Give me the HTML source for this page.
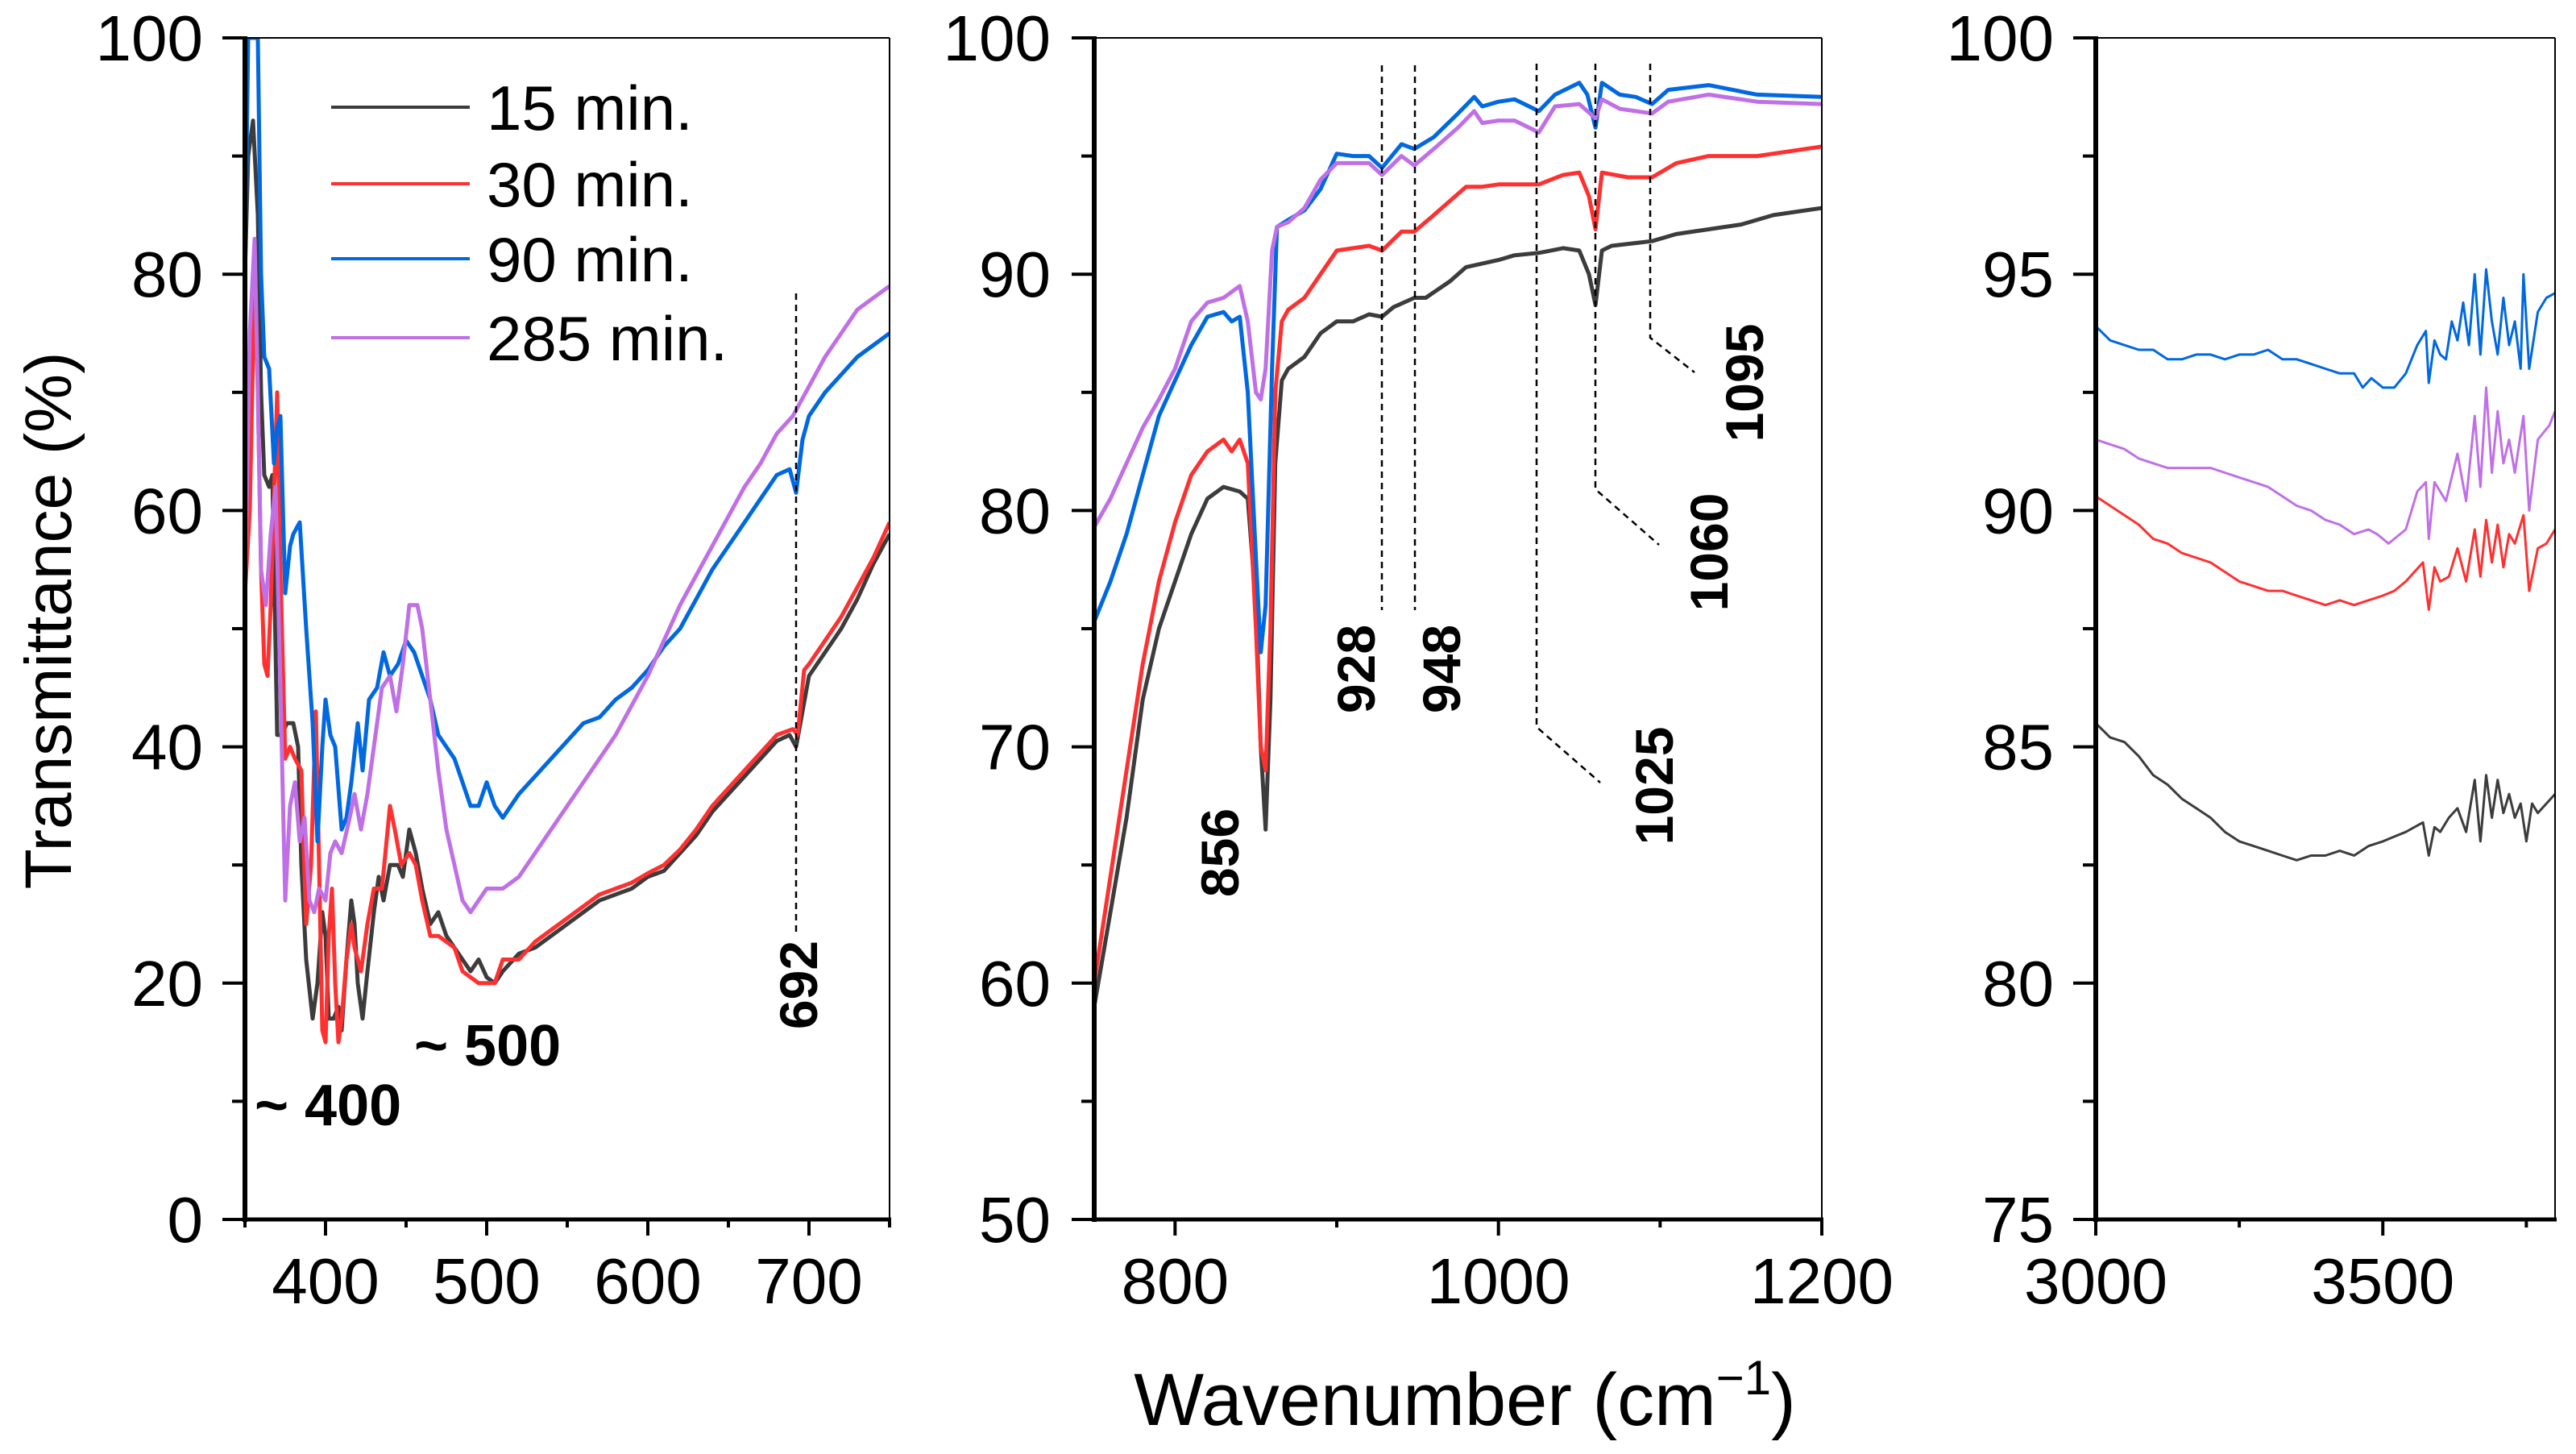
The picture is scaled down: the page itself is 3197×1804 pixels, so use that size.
<!DOCTYPE html>
<html><head><meta charset="utf-8"><style>
html,body{margin:0;padding:0;background:#fff;}
svg{display:block;font-family:"Liberation Sans",sans-serif;}
</style></head><body>
<svg id="chart" width="3197" height="1804" viewBox="0 0 3197 1804" xmlns="http://www.w3.org/2000/svg">
<rect width="3197" height="1804" fill="#fff"/>
<text transform="translate(88,770) rotate(-90)" text-anchor="middle" font-size="82">Transmittance (%)</text>
<text x="1818" y="1768" text-anchor="middle" font-size="92">Wavenumber (cm<tspan dy="-38" font-size="60">−1</tspan><tspan dy="38">)</tspan></text>
</svg>
<script>
const NS="http://www.w3.org/2000/svg";
const svg=document.getElementById('chart');
const seriesNames=["15 min.","30 min.","90 min.","285 min."];
const seriesColors=["#3c3c3c","#ff3030","#0068e0","#c070e6"];

// Panel 1 data (wavenumber, %T)
const p1x15=[350,352,355,358,360,362,365,367,370,373,376,380,383,385,388,392,395,398,400,402,405,408,410,413,416,418,420,423,426,430,433,436,440,445,448,452,456,460,465,470,475,480,485,490,495,500,505,510,520,530,540,550,560,570,580,590,600,610,620,630,640,650,660,670,680,688,692,696,700,710,720,730,740,750];
const p1y15=[80,90,93,85,70,63,62,63,41,41,42,42,40,30,22,17,20,26,24,17,17,18,16,22,27,25,20,17,21,26,29,27,30,30,29,33,31,28,25,26,24,23,22,21,22,20.5,20,21,22.5,23,24,25,26,27,27.5,28,29,29.5,31,32.5,34.5,36,37.5,39,40.5,41,40,43,46,48,50,52.5,55.5,58];
const p1x30=[350,353,356,358,360,362,364,366,370,372,375,378,381,385,388,391,394,396,398,400,402,404,406,408,410,413,416,418,422,426,430,435,440,443,447,452,456,460,465,470,480,485,490,495,505,510,520,530,540,550,560,570,580,590,600,610,620,630,640,650,660,670,680,690,693,697,700,710,720,730,740,750];
const p1y30=[53,60,80,70,55,47,46,52,70,55,39,40,39,38,25,30,43,30,16,15,24,28,20,15,17,22,25,23,21,25,28,28,35,33,30,31,30,27,24,24,23,21,20.5,20,20,22,22,23.5,24.5,25.5,26.5,27.5,28,28.5,29.3,30,31.3,33,35,36.5,38,39.5,41,41.5,41,46.5,47,49,51,53.5,56,59];
const p1x90=[350,352,355,358,360,362,365,368,370,372,375,378,380,384,388,392,395,398,400,403,406,410,413,416,420,423,427,432,436,440,445,450,455,460,465,470,475,480,485,490,495,500,505,510,515,520,530,540,550,560,570,580,590,600,610,620,630,640,650,660,670,680,688,692,696,700,710,720,730,740,750];
const p1y90=[80,100,100,100,80,73,72,64,67,68,53,57,58,59,50,42,32,40,44,41,40,33,34,37,42,38,44,45,48,46,47,49,48,46,44,41,40,39,37,35,35,37,35,34,35,36,37.5,39,40.5,42,42.5,44,45,46.5,48.5,50,52.5,55,57,59,61,63,63.5,61.5,66,68,70,71.5,73,74,75];
const p1x285=[350,353,356,358,360,363,366,369,372,375,378,381,384,387,390,393,396,400,403,406,410,415,418,422,426,430,435,440,444,448,452,457,460,465,470,475,480,485,490,495,500,510,520,530,540,550,560,570,580,590,600,610,620,630,640,650,660,670,680,690,700,710,720,730,740,750];
const p1y285=[53,75,83,70,55,52,58,62,45,27,35,37,32,34,27,26,28,27,31,32,31,34,36,33,36,40,45,46,43,47,52,52,50,44,38,33,30,27,26,27,28,28,29,31,33,35,37,39,41,43.5,46,49,52,54.5,57,59.5,62,64,66.5,68,70.5,73,75,77,78,79];

// Panel 2 data
const p2x15=[750,760,770,780,790,800,810,820,830,840,845,850,853,856,859,862,866,870,880,890,900,910,920,928,935,948,955,970,980,1000,1010,1025,1040,1050,1056,1060,1064,1070,1095,1110,1130,1150,1170,1200];
const p2y15=[59,63,67,72,75,77,79,80.5,81,80.8,80.5,76,70,66.5,72,82,85.5,86,86.5,87.5,88,88,88.3,88.2,88.6,89,89,89.7,90.3,90.6,90.8,90.9,91.1,91,90,88.7,91,91.2,91.4,91.7,91.9,92.1,92.5,92.8];
const p2x30=[750,760,770,780,790,800,810,820,830,835,840,845,850,853,856,859,862,866,870,880,890,900,910,920,928,940,948,960,980,990,1000,1010,1025,1040,1050,1056,1060,1064,1080,1095,1110,1130,1160,1200];
const p2y30=[60,64.5,69,73.5,77,79.5,81.5,82.5,83,82.5,83,82,75,70,69,75,85,88,88.5,89,90,91,91.1,91.2,91,91.8,91.8,92.5,93.7,93.7,93.8,93.8,93.8,94.2,94.3,93.3,91.9,94.3,94.1,94.1,94.7,95,95,95.4];
const p2x90=[750,760,770,780,790,800,810,820,830,835,840,845,850,853,856,860,863,870,880,890,900,910,920,928,940,948,960,975,985,990,1000,1010,1025,1035,1050,1055,1060,1064,1075,1085,1095,1105,1130,1160,1200];
const p2y90=[75.3,77,79,81.5,84,85.5,87,88.2,88.4,88,88.2,85,78,74,76,86,92,92.3,92.7,93.6,95.1,95,95,94.5,95.5,95.3,95.8,96.8,97.5,97.1,97.3,97.4,96.9,97.6,98.1,97.6,96.2,98.1,97.6,97.5,97.2,97.8,98,97.6,97.5];
const p2x285=[750,760,770,780,790,800,810,820,830,840,845,850,853,856,860,863,870,880,890,900,910,920,928,940,948,960,975,985,990,1000,1010,1025,1035,1050,1055,1060,1064,1075,1085,1095,1105,1130,1160,1200];
const p2y285=[79.3,80.5,82,83.5,84.7,86,88,88.8,89,89.5,88,85,84.7,86,91,92,92.2,92.8,94,94.7,94.7,94.7,94.2,95,94.6,95.3,96.2,96.9,96.4,96.5,96.5,96,97.1,97.2,96.9,96.6,97.4,97,96.9,96.8,97.3,97.6,97.3,97.2];

// Panel 3 data
const p3x15=[3000,3025,3050,3075,3100,3125,3150,3175,3200,3225,3250,3275,3300,3325,3350,3375,3400,3425,3450,3475,3500,3520,3540,3555,3570,3580,3590,3600,3615,3630,3645,3660,3670,3680,3690,3700,3710,3720,3730,3740,3750,3760,3770,3785,3800];
const p3y15=[85.5,85.2,85.1,84.8,84.4,84.2,83.9,83.7,83.5,83.2,83.0,82.9,82.8,82.7,82.6,82.7,82.7,82.8,82.7,82.9,83.0,83.1,83.2,83.3,83.4,82.7,83.3,83.2,83.5,83.7,83.2,84.3,83.0,84.4,83.5,84.3,83.6,84.0,83.5,83.8,83.0,83.8,83.6,83.8,84.0];
const p3x30=[3000,3025,3050,3075,3100,3125,3150,3175,3200,3225,3250,3275,3300,3325,3350,3375,3400,3425,3450,3475,3500,3520,3540,3555,3570,3580,3590,3600,3615,3630,3645,3660,3670,3680,3690,3700,3710,3720,3730,3745,3755,3770,3785,3800];
const p3y30=[90.3,90.1,89.9,89.7,89.4,89.3,89.1,89.0,88.9,88.7,88.5,88.4,88.3,88.3,88.2,88.1,88.0,88.1,88.0,88.1,88.2,88.3,88.5,88.7,88.9,87.9,88.8,88.5,88.6,89.2,88.5,89.6,88.6,89.8,88.9,89.7,88.8,89.5,89.3,89.9,88.3,89.2,89.3,89.6];
const p3x90=[3000,3025,3050,3075,3100,3125,3150,3175,3200,3225,3250,3275,3300,3325,3350,3375,3400,3425,3450,3465,3480,3500,3520,3540,3560,3575,3580,3590,3600,3610,3620,3630,3640,3650,3660,3670,3680,3690,3700,3710,3720,3730,3740,3745,3755,3770,3785,3800];
const p3y90=[93.9,93.6,93.5,93.4,93.4,93.2,93.2,93.3,93.3,93.2,93.3,93.3,93.4,93.2,93.2,93.1,93.0,92.9,92.9,92.6,92.8,92.6,92.6,92.9,93.5,93.8,92.7,93.6,93.3,93.2,94.0,93.6,94.4,93.5,95.0,93.3,95.1,94.0,93.3,94.5,93.5,94.0,93.0,95.0,93.0,94.2,94.5,94.6];
const p3x285=[3000,3025,3050,3075,3100,3125,3150,3175,3200,3225,3250,3275,3300,3325,3350,3375,3400,3425,3450,3475,3490,3510,3540,3560,3575,3580,3590,3610,3630,3645,3660,3670,3680,3690,3700,3710,3720,3730,3745,3755,3770,3790,3800];
const p3y285=[91.5,91.4,91.3,91.1,91.0,90.9,90.9,90.9,90.9,90.8,90.7,90.6,90.5,90.3,90.1,90.0,89.8,89.7,89.5,89.6,89.5,89.3,89.6,90.4,90.6,89.4,90.6,90.2,91.2,90.2,92.0,90.5,92.6,90.8,92.1,91.0,91.5,90.8,92.0,90.0,91.5,91.8,92.1];

const panels=[
 {name:'panel-low',x0:304,x1:1104,xmin:350,xmax:750,ymin:0,ymax:100,
  yMajor:[0,20,40,60,80,100],yMinor:[10,30,50,70,90],xMajor:[400,500,600,700],xMinor:[350,450,550,650,750],
  labelRight:252,xs:[p1x15,p1x30,p1x90,p1x285],ys:[p1y15,p1y30,p1y90,p1y285]},
 {name:'panel-mid',x0:1358,x1:2261,xmin:750,xmax:1200,ymin:50,ymax:100,
  yMajor:[50,60,70,80,90,100],yMinor:[55,65,75,85,95],xMajor:[800,1000,1200],xMinor:[900,1100],
  labelRight:1304,xs:[p2x15,p2x30,p2x90,p2x285],ys:[p2y15,p2y30,p2y90,p2y285]},
 {name:'panel-high',x0:2601,x1:3171,xmin:3000,xmax:3800,ymin:75,ymax:100,
  yMajor:[75,80,85,90,95,100],yMinor:[77.5,82.5,87.5,92.5,97.5],xMajor:[3000,3500],xMinor:[3250,3750],
  labelRight:2549,xs:[p3x15,p3x30,p3x90,p3x285],ys:[p3y15,p3y30,p3y90,p3y285]}
];
const Y0=1513,Y1=47;
function mk(tag,attrs,parent){const e=document.createElementNS(NS,tag);for(const k in attrs)e.setAttribute(k,attrs[k]);(parent||svg).appendChild(e);return e;}

panels.forEach(p=>{
  const sx=v=>p.x0+(v-p.xmin)/(p.xmax-p.xmin)*(p.x1-p.x0);
  const sy=v=>Y0-(v-p.ymin)/(p.ymax-p.ymin)*(Y0-Y1);
  const g=mk('g',{});
  
  
  const clipId='clip-'+p.name;
  const cp=mk('clipPath',{id:clipId},g);
  mk('rect',{x:p.x0,y:Y1,width:p.x1-p.x0,height:Y0-Y1},cp);
  p.xs.forEach((xa,i)=>{
    const d=xa.map((x,j)=>(j?'L':'M')+sx(x).toFixed(1)+','+sy(p.ys[i][j]).toFixed(1)).join('');
    const path=mk('path',{d:d,fill:'none',stroke:seriesColors[i],'stroke-width':p.name==='panel-high'?3:5,'stroke-linejoin':'round','clip-path':'url(#'+clipId+')'},g);
    
    
  });
  mk('line',{x1:p.x0,y1:Y1,x2:p.x1,y2:Y1,stroke:'#000','stroke-width':2},g);
  mk('line',{x1:p.x1,y1:Y1,x2:p.x1,y2:Y0,stroke:'#000','stroke-width':2},g);
  const ya=mk('line',{x1:p.x0,y1:Y1-2,x2:p.x0,y2:Y0+3,stroke:'#000','stroke-width':6},g);
  
  
  const xa=mk('line',{x1:p.x0-3,y1:Y0,x2:p.x1+2,y2:Y0,stroke:'#000','stroke-width':5},g);
  
  
  p.yMajor.forEach(v=>{
    mk('line',{x1:p.x0-28,y1:sy(v),x2:p.x0,y2:sy(v),stroke:'#000','stroke-width':4},g);
    const t=mk('text',{x:p.labelRight,y:sy(v)+28,'text-anchor':'end','font-size':80},g);
    t.textContent=v;
    
    
  });
  p.yMinor.forEach(v=>mk('line',{x1:p.x0-16,y1:sy(v),x2:p.x0,y2:sy(v),stroke:'#000','stroke-width':4},g));
  p.xMajor.forEach(v=>{
    mk('line',{x1:sx(v),y1:Y0,x2:sx(v),y2:Y0+20,stroke:'#000','stroke-width':4},g);
    const t=mk('text',{x:sx(v),y:1617,'text-anchor':'middle','font-size':80},g);
    t.textContent=v;
    
    
  });
  p.xMinor.forEach(v=>mk('line',{x1:sx(v),y1:Y0,x2:sx(v),y2:Y0+10,stroke:'#000','stroke-width':4},g));
});

const legendY=[133,228,321,419];
seriesNames.forEach((n,i)=>{
  const g=mk('g',{});
  
  
  mk('line',{x1:411,y1:legendY[i],x2:583,y2:legendY[i],stroke:seriesColors[i],'stroke-width':4},g);
  const t=mk('text',{x:604,y:legendY[i]+28,'font-size':78},g);
  t.textContent=n;
});

function dash(pts){const p=mk('polyline',{points:pts,fill:'none',stroke:'#000','stroke-width':2.5,'stroke-dasharray':'8,6'});}
function vlabel(txt,cx,cy,size){const t=mk('text',{transform:`translate(${cx},${cy}) rotate(-90)`,'text-anchor':'middle','font-size':size||66,'font-weight':'bold',y:size?size*0.36:24});t.textContent=txt;}
function hlabel(txt,x,y){const t=mk('text',{x:x,y:y,'font-size':72,'font-weight':'bold'});t.textContent=txt;}
dash('988,364 988,1156');
vlabel('692',990,1222);
hlabel('~ 400',316,1396);
hlabel('~ 500',514,1322);
dash('1715,81 1715,757');
dash('1756,81 1756,757');
dash('1907,79 1907,902 1986,971');
dash('1980,79 1980,607 2059,676');
dash('2048,79 2048,419 2103,462');
vlabel('856',1513,1058);
vlabel('928',1682,830);
vlabel('948',1788,830);
vlabel('1025',2052,975);
vlabel('1060',2120,685);
vlabel('1095',2164,475);
</script>
</body></html>
